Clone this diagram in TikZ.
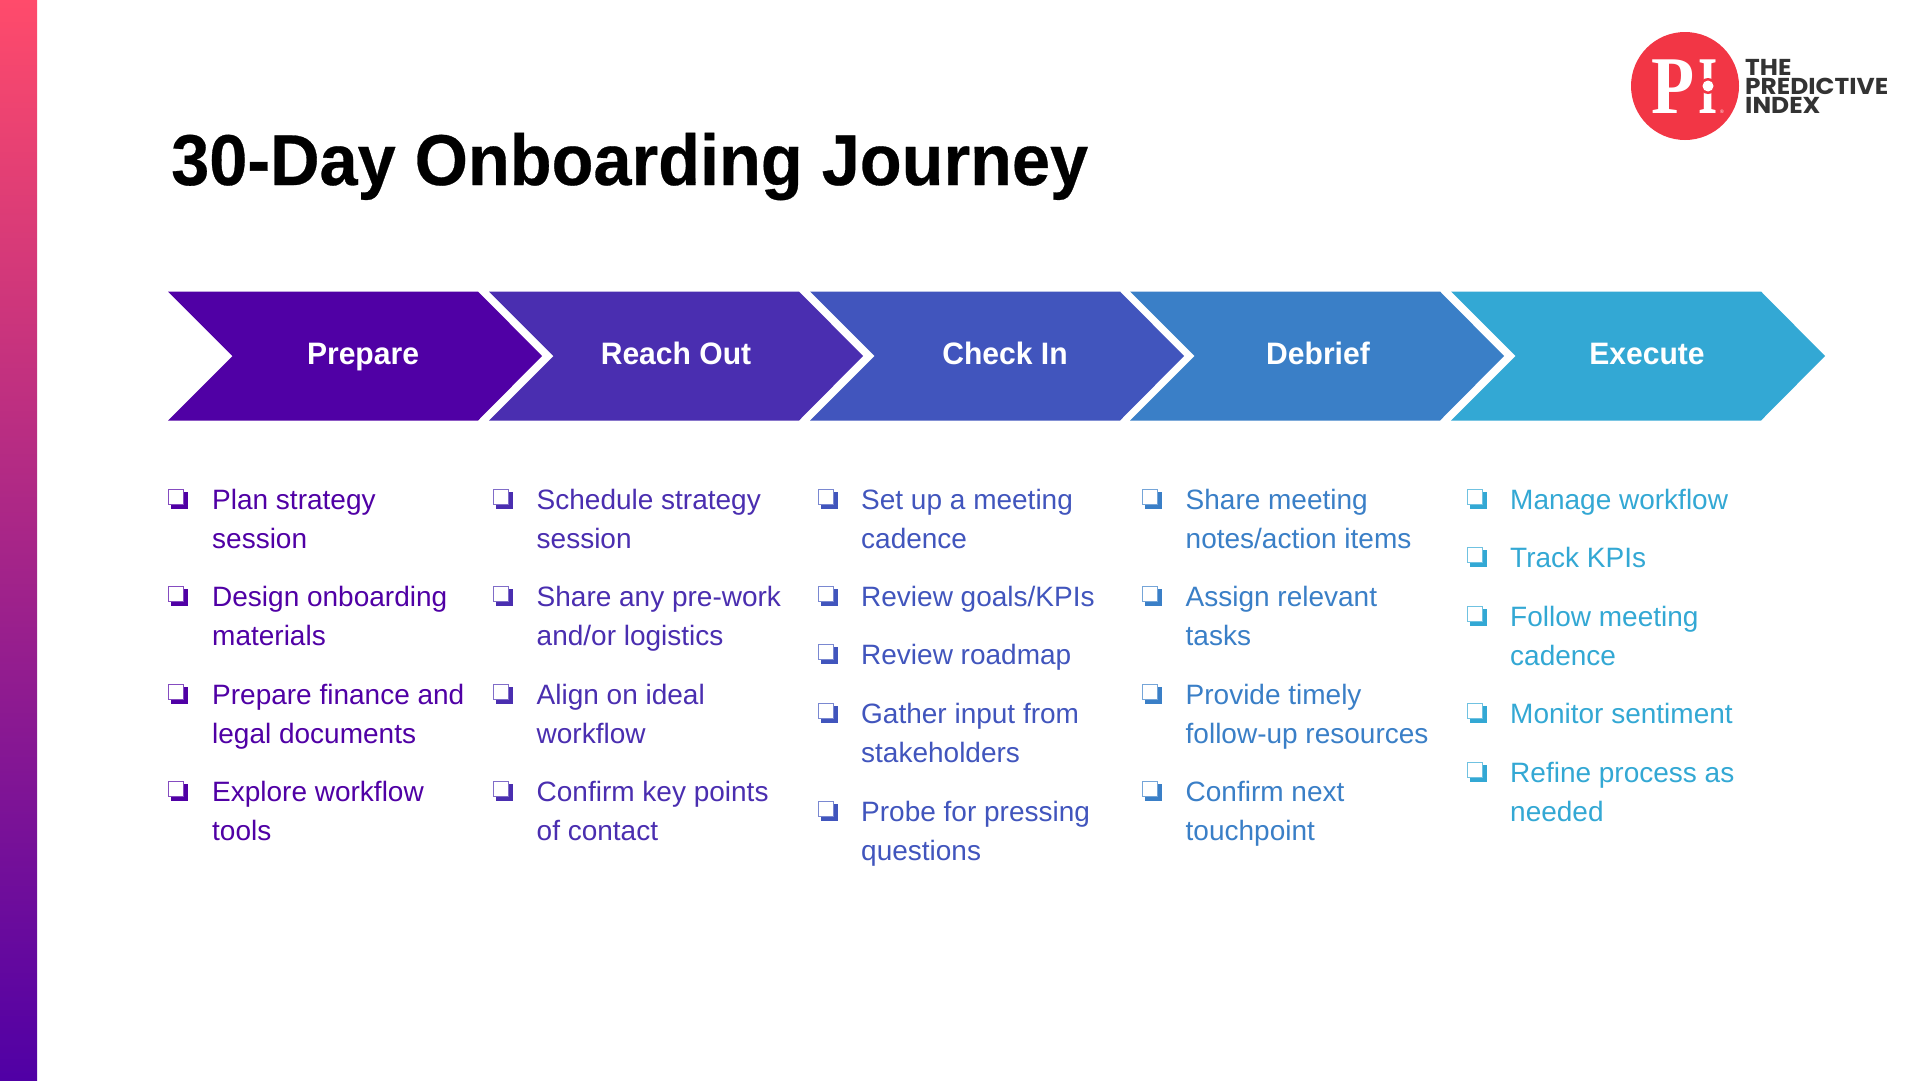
\documentclass[tikz,border=0pt]{standalone}
\usepackage{fontspec}
\setmainfont{Liberation Sans}
\newfontfamily\logofont{Poppins}[FakeStretch=1.08]
\newfontfamily\logoPfont{Liberation Serif}[FakeStretch=0.86]
\newfontfamily\logoIfont{Liberation Serif}[FakeStretch=0.6]
\newfontfamily\titlefont{Liberation Sans}[FakeStretch=0.951,FakeBold=0.4]
\newfontfamily\labelfont{Liberation Sans}[FakeStretch=0.97]
\usetikzlibrary{calc}
\definecolor{cA}{HTML}{5000A5}
\definecolor{cB}{HTML}{4A2EB0}
\definecolor{cC}{HTML}{4155BD}
\definecolor{cD}{HTML}{3A7FC7}
\definecolor{cE}{HTML}{33A8D4}
\definecolor{sideTop}{HTML}{FF4B6B}
\definecolor{logoRed}{HTML}{F23645}
\definecolor{logoInk}{HTML}{333333}
\newcommand{\itemfont}{\fontsize{28}{39}\selectfont}
\newcommand{\chev}[4]{%
  \fill[#3] (#1,291.5) -- (#1+310,291.5) -- (#1+374,356) -- (#1+310,420.5) -- (#1,420.5) -- (#1+64.5,356) -- cycle;
  \node[steplabel] (#2) at (#1+#4,364) {#2};}
\newcommand{\chk}[3]{%
  \begin{scope}[shift={(#1,#2)}]
    \fill[#3] (3,3) rectangle (20,20);
    \fill[white] (0.8,0.8) rectangle (15.6,15.6);
    \draw[#3!70,line width=1pt] (0.5,0.5) rectangle (15.6,15.6);
  \end{scope}}
\newcommand{\entry}[6]{% box x, text x, baseline, colour, name, text
  \chk{#1}{#3-19}{#4}
  \node[itemtext,text=#4] (#5) at (#2,#3-23) {\rule{0pt}{24pt}#6};}
\tikzset{
  steplabel/.style={text=white,font=\labelfont\bfseries\fontsize{31}{36}\selectfont,inner sep=0pt,anchor=base},
  itemtext/.style={anchor=north west,inner sep=0pt,align=left,font=\itemfont},
  logotext/.style={anchor=north west,inner sep=0pt,align=left,text=logoInk,font=\logofont\bfseries\fontsize{23}{19}\selectfont},
}
\begin{document}
\begin{tikzpicture}[x=1pt,y=-1pt]
\useasboundingbox (0,0) rectangle (1920,1080);
\fill[white] (0,0) rectangle (1920,1080);
\shade[top color=sideTop,bottom color=cA] (0,0) rectangle (37,1080);
\node[anchor=base west,inner sep=0pt,font=\titlefont\bfseries\fontsize{72}{80}\selectfont] (title) at (171,185) {30-Day Onboarding Journey};
% logo
\fill[logoRed] (1685,86) circle (54);
\node[anchor=base,inner sep=0pt,text=white,font=\logoPfont\bfseries\fontsize{82}{84}\selectfont] (logoP) at (1673.5,113) {P};
\node[anchor=base,inner sep=0pt,text=white,font=\logoIfont\bfseries\fontsize{82}{84}\selectfont] (logoI) at (1708,113) {I};
\fill[logoRed] (1708,86) circle (8);
\fill[white] (1708,86) circle (5.5);
\node[anchor=center,inner sep=0pt,text=white,font=\fontsize{5}{6}\selectfont] (logoR) at (1722,112) {®};
\node[logotext] (logoname) at (1745,58) {\rule{0pt}{17pt}THE\\PREDICTIVE\\INDEX};
% chevrons
\chev{168}{Prepare}{cA}{195}
\chev{489}{Reach Out}{cB}{187}
\chev{810}{Check In}{cC}{195}
\chev{1130}{Debrief}{cD}{188}
\chev{1451}{Execute}{cE}{196}
% column 1
\entry{168}{212}{508}{cA}{a1}{Plan strategy\\session}
\entry{168}{212}{605}{cA}{a2}{Design onboarding\\materials}
\entry{168}{212}{703}{cA}{a3}{Prepare finance and\\legal documents}
\entry{168}{212}{800}{cA}{a4}{Explore workflow\\tools}
% column 2
\entry{493}{536.5}{508}{cB}{b1}{Schedule strategy\\session}
\entry{493}{536.5}{605}{cB}{b2}{Share any pre-work\\and/or logistics}
\entry{493}{536.5}{703}{cB}{b3}{Align on ideal\\workflow}
\entry{493}{536.5}{800}{cB}{b4}{Confirm key points\\of contact}
% column 3
\entry{818}{861}{508}{cC}{c1}{Set up a meeting\\cadence}
\entry{818}{861}{605}{cC}{c2}{Review goals/KPIs}
\entry{818}{861}{663}{cC}{c3}{Review roadmap}
\entry{818}{861}{722}{cC}{c4}{Gather input from\\stakeholders}
\entry{818}{861}{820}{cC}{c5}{Probe for pressing\\questions}
% column 4
\entry{1142}{1185.5}{508}{cD}{d1}{Share meeting\\notes/action items}
\entry{1142}{1185.5}{605}{cD}{d2}{Assign relevant\\tasks}
\entry{1142}{1185.5}{703}{cD}{d3}{Provide timely\\follow-up resources}
\entry{1142}{1185.5}{800}{cD}{d4}{Confirm next\\touchpoint}
% column 5
\entry{1467}{1510}{508}{cE}{e1}{Manage workflow}
\entry{1467}{1510}{566}{cE}{e2}{Track KPIs}
\entry{1467}{1510}{625}{cE}{e3}{Follow meeting\\cadence}
\entry{1467}{1510}{722}{cE}{e4}{Monitor sentiment}
\entry{1467}{1510}{781}{cE}{e5}{Refine process as\\needed}
\end{tikzpicture}
\end{document}
